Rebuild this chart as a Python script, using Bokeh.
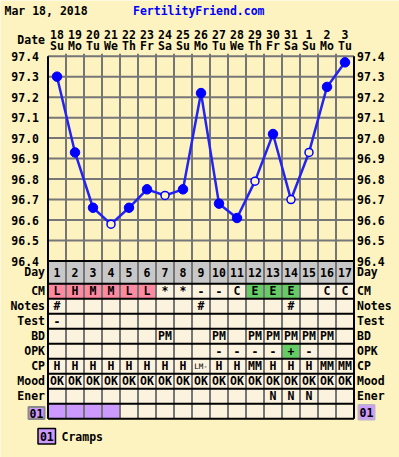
from bokeh.plotting import figure
from bokeh.models import Range1d
from bokeh.embed import file_html
from bokeh.resources import INLINE
from bokeh.core.properties import value

# ---------------- data ----------------
chart_title = "Mar 18, 2018"
site_name = "FertilityFriend.com"
date_labels = ["18", "19", "20", "21", "22", "23", "24", "25", "26", "27", "28", "29", "30", "31", "1", "2", "3"]
weekday_labels = ["Su", "Mo", "Tu", "We", "Th", "Fr", "Sa", "Su", "Mo", "Tu", "We", "Th", "Fr", "Sa", "Su", "Mo", "Tu"]
cycle_days = list(range(1, 18))
temps = [97.30, 96.93, 96.66, 96.58, 96.66, 96.75, 96.72, 96.75, 97.22, 96.68, 96.61, 96.79, 97.02, 96.70, 96.93, 97.25, 97.37]
temp_open = [False, False, False, True, False, False, True, False, False, False, False, True, False, True, True, False, False]
temp_ticks = [96.4, 96.5, 96.6, 96.7, 96.8, 96.9, 97.0, 97.1, 97.2, 97.3, 97.4]
tick_labels = ["96.4", "96.5", "96.6", "96.7", "96.8", "96.9", "97.0", "97.1", "97.2", "97.3", "97.4"]
row_names = ["CM", "Notes", "Test", "BD", "OPK", "CP", "Mood", "Ener"]
cm_values = ["L", "H", "M", "M", "L", "L", "*", "*", "-", "-", "C", "E", "E", "E", "", "C", "C"]
cm_cells = ["pink"] * 6 + [""] * 5 + ["green"] * 3 + [""] * 3
notes_values = ["#", "", "", "", "", "", "", "", "#", "", "", "", "", "#", "", "", ""]
test_values = ["-"] + [""] * 16
bd_values = ["", "", "", "", "", "", "PM", "", "", "PM", "", "PM", "PM", "PM", "PM", "PM", ""]
opk_values = ["", "", "", "", "", "", "", "", "", "-", "-", "-", "-", "+", "-", "", ""]
opk_cells = [""] * 13 + ["green"] + [""] * 3
cp_values = ["H", "H", "H", "H", "H", "H", "H", "H", "LM-", "H", "H", "MM", "H", "H", "H", "MM", "MM"]
mood_values = ["OK"] * 17
ener_values = [""] * 12 + ["N", "N", "N", "", ""]
symptom_code = "01"
symptom_name = "Cramps"
symptom_days = [True, True, True, True] + [False] * 13

# ---------------- style / layout ----------------
W, H = 399, 457
PAGE = 0
BG = "#FDF3C1"
CELL = "#FCF3DF"
DAYROW = "#C8C8C8"
PINK = "#FF8AA0"
GREEN = "#66CC66"
PURPLE = "#CC99FF"
GRID = "#767676"
BLUE = "#0000FF"
LINEBLUE = "#2424F2"
FONT = value("DejaVu Sans Mono")
FS = "11.5px"
CELL_COLORS = {"pink": PINK, "green": GREEN}

COL_W = 18.0
TABLE_LEFT = 47.5          # page px of table / chart left edge
T_TOP, T_TOP_Y, PX_DEG = 97.4, 55.7, 204.8
ROW_TOP_Y, ROW_H = 283.3, 15.0


def xd(X):  # page x -> column units
    return (X - TABLE_LEFT) / COL_W + 0.5


def tp(Y):  # page y -> temperature units
    return T_TOP - (Y - T_TOP_Y) / PX_DEG


def ty(Y):  # page y -> table row units
    return (Y - ROW_TOP_Y) / ROW_H


def t_to_row(T):
    return ty(T_TOP_Y + (T_TOP - T) * PX_DEG)


p = figure(width=W, height=H,
           x_range=Range1d(xd(PAGE), xd(PAGE + W)),
           y_range=Range1d(tp(PAGE + H), tp(PAGE)),
           output_backend="svg", toolbar_location=None,
           x_axis_location=None, y_axis_location=None,
           min_border=0, title_location=None)
p.extra_y_ranges = {"tbl": Range1d(start=ty(PAGE + H), end=ty(PAGE))}
p.grid.visible = False
p.outline_line_color = None
p.background_fill_color = BG
p.border_fill_color = BG

n = len(cycle_days)
first, last = cycle_days[0] - 0.5, cycle_days[-1] + 0.5
inner_x = [d + 0.5 for d in cycle_days[:-1]]

# ---------------- chart grid ----------------
tmin, tmax = temp_ticks[0], temp_ticks[-1]
p.segment(x0=inner_x, x1=inner_x, y0=[tmin] * len(inner_x), y1=[tmax + 2.5 / PX_DEG] * len(inner_x),
          line_color=GRID, line_width=2)
p.segment(x0=[first] * (len(temp_ticks) - 1), x1=[last] * (len(temp_ticks) - 1),
          y0=temp_ticks[1:], y1=temp_ticks[1:], line_color=GRID, line_width=2)
p.segment(x0=[first, last], x1=[first, last], y0=[tmin, tmin], y1=[tmax, tmax],
          line_color="black", line_width=2)

# ---------------- table ----------------
day_top = t_to_row(tmin)
nrows = len(row_names) + 1
p.quad(left=[first], right=[last], top=[day_top], bottom=[0], fill_color=DAYROW, line_color=None,
       y_range_name="tbl")
p.quad(left=[first], right=[last], top=[0], bottom=[nrows], fill_color=CELL, line_color=None,
       y_range_name="tbl")

cl, cr, ct, cb, cc = [], [], [], [], []
for ri, cells in [(0, cm_cells), (4, opk_cells)]:
    for d, c in zip(cycle_days, cells):
        if c:
            cl.append(d - 0.5); cr.append(d + 0.5); ct.append(ri); cb.append(ri + 1); cc.append(CELL_COLORS[c])
for d, on in zip(cycle_days, symptom_days):
    if on:
        cl.append(d - 0.5); cr.append(d + 0.5); ct.append(nrows - 1); cb.append(nrows); cc.append(PURPLE)
p.quad(left=cl, right=cr, top=ct, bottom=cb, fill_color=cc, line_color=None, y_range_name="tbl")

p.segment(x0=inner_x, x1=inner_x, y0=[day_top] * len(inner_x), y1=[nrows] * len(inner_x),
          line_color=GRID, line_width=2, y_range_name="tbl")
hy = list(range(0, nrows + 1))
p.segment(x0=[first] * len(hy), x1=[last] * len(hy), y0=hy, y1=hy, line_color="black", line_width=2,
          y_range_name="tbl")
p.segment(x0=[first, last, first], x1=[first, last, last], y0=[day_top, day_top, day_top],
          y1=[nrows, nrows, day_top], line_color="black", line_width=2, y_range_name="tbl")


def txt(xs, ys, texts, align="center", color="black", size=FS, style="bold", rng="tbl"):
    kw = dict(x=xs, y=ys, text=texts, text_align=align, text_baseline="middle", text_color=color,
              text_font=FONT, text_font_size=size, text_font_style=style)
    if rng:
        kw["y_range_name"] = rng
    p.text(**kw)


# day numbers
txt(cycle_days, [day_top / 2] * n, [str(d) for d in cycle_days])
# row texts
rows_data = [cm_values, notes_values, test_values, bd_values, opk_values, cp_values, mood_values, ener_values]
xs, ys, ts, xs2, ys2, ts2 = [], [], [], [], [], []
for ri, vals in enumerate(rows_data):
    for d, v in zip(cycle_days, vals):
        if not v:
            continue
        if len(v) > 2:
            xs2.append(d); ys2.append(ri + 0.5); ts2.append(v)
        else:
            xs.append(d); ys.append(ri + 0.5); ts.append(v)
txt(xs, ys, ts)
txt(xs2, ys2, ts2, size="7.5px", style="normal")

# row labels left / right
lab_y = [day_top / 2] + [i + 0.5 for i in range(len(row_names))]
lab_t = ["Day"] + row_names
txt([xd(44.5)] * len(lab_t), lab_y, lab_t, align="right")
txt([xd(356.5)] * len(lab_t), lab_y, lab_t, align="left")

# temperature tick labels
txt([xd(38.5)] * len(temp_ticks), temp_ticks, tick_labels, align="right", rng=None)
txt([xd(356.5)] * len(temp_ticks), temp_ticks, tick_labels, align="left", rng=None)

# header
txt(cycle_days, [ty(33.5)] * n, date_labels)
txt(cycle_days, [ty(45.5)] * n, weekday_labels)
txt([xd(44.5)], [ty(39.5)], ["Date"], align="right")
txt([xd(4)], [ty(10)], [chart_title], align="left")
txt([xd(132.5)], [ty(10)], [site_name], align="left", color=BLUE)

# symptom code boxes + legend
p.quad(left=[xd(28), xd(358)], right=[xd(44), xd(374)], top=[ty(406.5), ty(404.5)],
       bottom=[ty(418.5), ty(419)], fill_color=PURPLE, line_color=["#8a8a8a", "#c0b0d0"], line_width=2,
       y_range_name="tbl")
p.quad(left=[xd(37.5)], right=[xd(55)], top=[ty(428)], bottom=[ty(443.5)], fill_color=PURPLE,
       line_color="black", line_width=1.5, y_range_name="tbl")
txt([xd(36), xd(366)], [ty(412.8), ty(411.8)], [symptom_code, symptom_code])
txt([xd(46.3)], [ty(436)], [symptom_code])
txt([xd(61)], [ty(436)], [symptom_name], align="left")

# ---------------- temperature line ----------------
p.line(cycle_days, temps, line_color=LINEBLUE, line_width=2.5)
fx = [d for d, o in zip(cycle_days, temp_open) if not o]
fy = [t for t, o in zip(temps, temp_open) if not o]
ox = [d for d, o in zip(cycle_days, temp_open) if o]
oy = [t for t, o in zip(temps, temp_open) if o]
p.scatter(fx, fy, size=9.5, fill_color=BLUE, line_color=BLUE, line_width=1)
p.scatter(ox, oy, size=8, fill_color=BG, line_color=BLUE, line_width=1.5)

open("out.html", "w").write(file_html(p, INLINE))
